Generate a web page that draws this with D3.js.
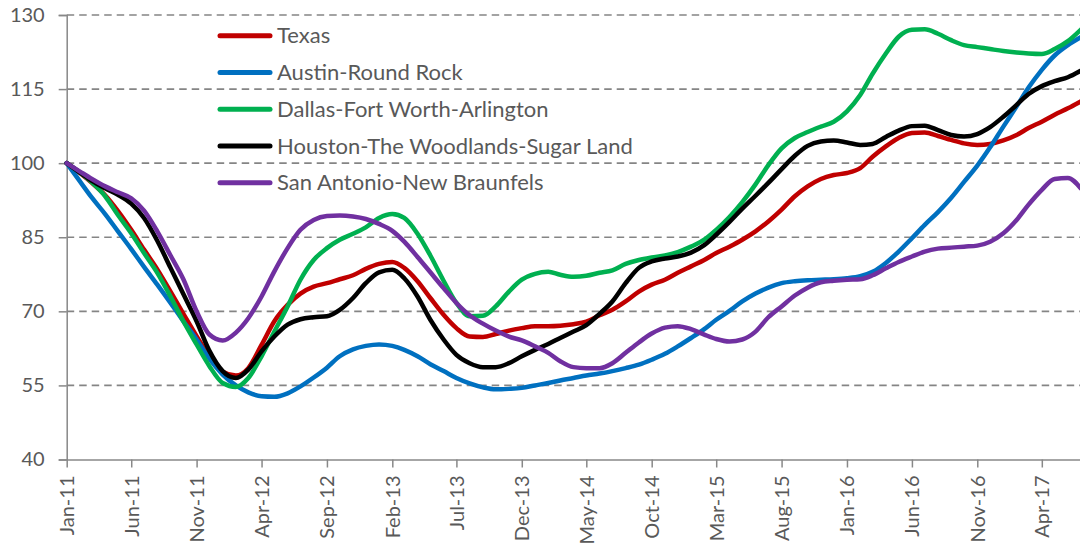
<!DOCTYPE html>
<html lang="en">
<head>
    <meta charset="UTF-8" />
    <title>Texas metro index</title>
    <script src="https://d3js.org/d3.v7.min.js"></script>
    <style>
        body { margin: 0; background: #fff; }
        text { font-family: Lato, "Open Sans", sans-serif; fill: #595959; }
    </style>
</head>

<body>
    <script>
        var w = 1080;
        var h = 548;

        // months Jan-11 .. Jul-17
        var months = d3.timeMonth.range(new Date(2011, 0, 1), new Date(2017, 7, 1));
        var xTickLabels = ["Jan-11", "Jun-11", "Nov-11", "Apr-12", "Sep-12", "Feb-13", "Jul-13", "Dec-13",
            "May-14", "Oct-14", "Mar-15", "Aug-15", "Jan-16", "Jun-16", "Nov-16", "Apr-17"];
        var yTicks = [40, 55, 70, 85, 100, 115, 130];

        var seriesNames = ["Texas", "Austin-Round Rock", "Dallas-Fort Worth-Arlington",
            "Houston-The Woodlands-Sugar Land", "San Antonio-New Braunfels"];
        var seriesColors = ["#C00000", "#0070C0", "#00B050", "#000000", "#7030A0"];

        var texas = [100, 98, 96, 93.5, 90.3, 86.5, 82.5, 78.5, 74, 69.5,
            65, 60.8, 57.8, 57, 58.5, 63.2, 68, 71.3, 73.6, 75,
            75.7, 76.5, 77.3, 78.6, 79.6, 80, 78.8, 76.1, 72.7, 69.3,
            66.6, 64.9, 64.8, 65.4, 66.1, 66.6, 67, 67, 67.1, 67.4,
            67.9, 69.2, 70.3, 72, 74, 75.4, 76.4, 77.8, 79.1, 80.4,
            81.8, 83.1, 84.5, 86.2, 88.2, 90.6, 93.3, 95.3, 96.8, 97.6,
            98, 99, 101.3, 103.4, 105.1, 106.1, 106.2, 105.5, 104.7, 104,
            103.7, 103.9, 104.6, 105.7, 107.1, 108.4, 109.8, 111.1, 112.5];

        var austin = [100, 96.3, 93, 89.7, 86.2, 82.6, 79, 75.4, 71.7, 68,
            64.3, 60.4, 57.2, 55, 53.6, 52.8, 52.7, 53.4, 54.8, 56.6,
            58.6, 60.9, 62.3, 63, 63.3, 63, 62.2, 60.9, 59.3, 57.9,
            56.5, 55.4, 54.6, 54.2, 54.3, 54.5, 55, 55.5, 56, 56.5,
            57, 57.4, 57.9, 58.5, 59.2, 60.2, 61.4, 62.9, 64.6, 66.4,
            68.3, 70.1, 72, 73.6, 74.8, 75.7, 76.1, 76.3, 76.4, 76.5,
            76.7, 77.1, 78, 79.8, 82.1, 84.8, 87.5, 90.1, 93, 96.2,
            99.5, 103.2, 107.4, 111.5, 115.3, 118.9, 121.8, 123.9, 125.5];

        var dallas = [100, 98.1, 96.1, 93.3, 89.5, 85.8, 81.8, 77.8, 73, 68,
            63.3, 58.9, 55.5, 54.7, 56.5, 60.9, 65.9, 71, 76.4, 80.4,
            82.8, 84.5, 85.7, 87, 88.9, 89.7, 88.9, 85.7, 81.3, 76.2,
            71.7, 69, 69.1, 71, 74, 76.4, 77.6, 78, 77.4, 77,
            77.2, 77.8, 78.3, 79.6, 80.4, 80.9, 81.3, 82, 83.1, 84.5,
            86.5, 89.1, 92.1, 95.7, 99.6, 103, 105.1, 106.3, 107.4, 108.4,
            110.5, 113.8, 118.1, 122.2, 125.6, 127, 127.1, 126.2, 124.9, 123.9,
            123.5, 123.1, 122.7, 122.4, 122.2, 122.1, 123.1, 124.7, 127];

        var houston = [100, 98.1, 96.4, 94.9, 93.6, 91.8, 88.9, 84.3, 78.8, 73.5,
            68, 62, 57.9, 56.5, 58.2, 61.9, 64.9, 67.3, 68.4, 68.8,
            69, 70.3, 72.7, 75.7, 77.9, 78.4, 76.7, 73, 68.3, 64.3,
            61.2, 59.5, 58.7, 58.7, 59.5, 60.9, 62.2, 63.4, 64.6, 65.9,
            67.2, 69.5, 72, 75.7, 78.8, 80.1, 80.7, 81.1, 81.9, 83.4,
            85.5, 88.1, 90.8, 93.4, 96, 98.8, 101.5, 103.5, 104.4, 104.6,
            104.2, 103.7, 103.9, 105.3, 106.6, 107.5, 107.6, 106.7, 105.7, 105.4,
            105.9, 107.3, 109.4, 111.8, 114, 115.6, 116.6, 117.4, 118.7];

        var sanAntonio = [100, 98.3, 96.8, 95.3, 94.1, 92.9, 90.4, 86.2, 81.3, 76.5,
            70, 65.3, 64.1, 65.7, 68.6, 73, 78.1, 82.8, 86.5, 88.5,
            89.3, 89.4, 89.2, 88.7, 87.7, 86.3, 84.1, 81, 77.9, 74.7,
            71.7, 69.2, 67.5, 66.1, 64.9, 64.1, 62.9, 61.6, 59.9, 58.7,
            58.5, 58.5, 59.5, 61.6, 63.7, 65.5, 66.7, 67, 66.4, 65.3,
            64.4, 63.9, 64.3, 65.9, 68.8, 71, 73.2, 74.8, 75.9, 76.2,
            76.4, 76.5, 77.3, 78.7, 80, 81.1, 82.1, 82.7, 82.9, 83.1,
            83.3, 84.1, 85.8, 88.5, 91.6, 94.6, 96.8, 97, 94.9];

        var seriesValues = [texas, austin, dallas, houston, sanAntonio];

        var svg = d3.select("body")
            .append("svg")
            .attr("width", w)
            .attr("height", h);

        // Scales
        var xScale = d3.scaleTime()
            .domain([months[0], months[months.length - 1]])
            .range([66.7, 66.7 + 13 * (months.length - 1)]);

        var yScale = d3.scaleLinear()
            .domain([40, 130])
            .range([459.5, 15]);

        // dashed gridlines
        svg.append("g")
            .selectAll("line")
            .data(yTicks.slice(1))
            .enter()
            .append("line")
            .attr("x1", 66.7)
            .attr("x2", w)
            .attr("y1", function(d) { return yScale(d); })
            .attr("y2", function(d) { return yScale(d); })
            .attr("stroke", "#858585")
            .attr("stroke-width", 1.7)
            .attr("stroke-dasharray", "7.5,5");

        // Y axis
        var yAxis = svg.append("g")
            .attr("transform", "translate(66.7,0)")
            .call(d3.axisLeft(yScale).tickValues(yTicks).tickSize(8).tickPadding(14));
        yAxis.select(".domain").attr("stroke", "#888888").attr("stroke-width", 1.5);
        yAxis.selectAll(".tick line").attr("stroke", "#888888").attr("stroke-width", 1.5);
        yAxis.selectAll("text").style("font-size", "20px").attr("fill", "#595959");

        // X axis
        var tickMonths = months.filter(function(d, i) { return i % 5 === 0; });
        var xAxis = svg.append("g")
            .attr("transform", "translate(0," + yScale(40) + ")")
            .call(d3.axisBottom(xScale)
                .tickValues(tickMonths)
                .tickSize(8)
                .tickSizeOuter(0)
                .tickFormat(function(d, i) { return xTickLabels[i]; }));
        xAxis.select(".domain").attr("stroke", "#888888").attr("stroke-width", 1.5);
        xAxis.selectAll(".tick line").attr("stroke", "#888888").attr("stroke-width", 1.5);
        xAxis.selectAll("text")
            .style("font-size", "20px")
            .attr("fill", "#595959")
            .attr("transform", "rotate(-90)")
            .attr("x", -16)
            .attr("y", 0)
            .attr("dy", "0.35em")
            .style("text-anchor", "end");

        // Lines
        var line = d3.line()
            .x(function(d, i) { return xScale(months[i]); })
            .y(function(d) { return yScale(d); })
            .curve(d3.curveMonotoneX);

        svg.append("g")
            .selectAll("path")
            .data(seriesValues)
            .enter()
            .append("path")
            .attr("d", line)
            .attr("fill", "none")
            .attr("stroke", function(d, i) { return seriesColors[i]; })
            .attr("stroke-width", 4.5)
            .attr("stroke-linejoin", "round")
            .attr("stroke-linecap", "round");

        // Legend
        var legend = svg.append("g")
            .selectAll("g")
            .data(seriesNames)
            .enter()
            .append("g")
            .attr("transform", function(d, i) { return "translate(218," + (35.7 + i * 36.75) + ")"; });

        legend.append("line")
            .attr("x1", 2)
            .attr("x2", 52)
            .attr("stroke", function(d, i) { return seriesColors[i]; })
            .attr("stroke-width", 5)
            .attr("stroke-linecap", "round");

        legend.append("text")
            .attr("x", 59)
            .attr("dy", "0.35em")
            .style("font-size", "22px")
            .attr("fill", "#595959")
            .text(function(d) { return d; });
    </script>
</body>
</html>
